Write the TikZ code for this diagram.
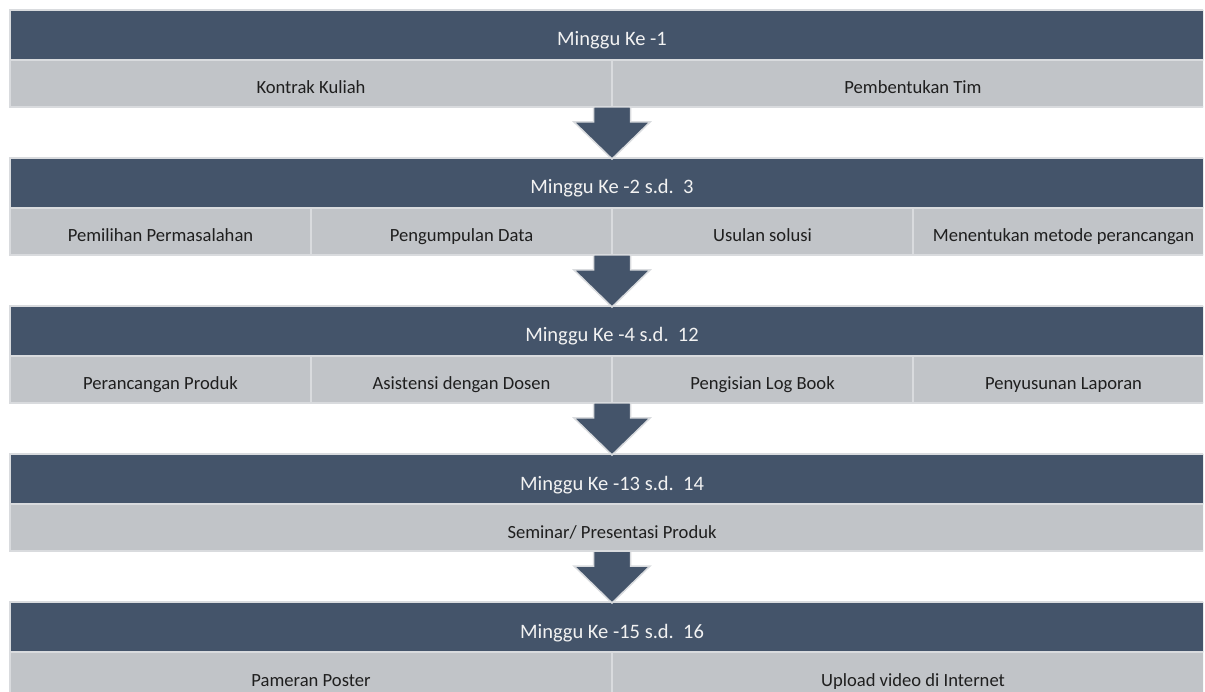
\documentclass[tikz,border=0pt]{standalone}
\usepackage{fontspec}
\setmainfont{Carlito}
\usepackage{xcolor}
\definecolor{slate}{HTML}{44546A}
\definecolor{silver}{HTML}{C1C4C8}
\definecolor{rim}{HTML}{D9DBDE}
\usetikzlibrary{
		positioning
	}

\begin{document}
\begin{tikzpicture}[x=1pt, y=-1pt,
	head/.style={fill=slate, draw=rim, line width=2pt, outer sep=0pt, inner sep=0pt, minimum width=1204pt, text=white!95!black, text height=36pt, text depth=14pt, font=\fontsize{20.5}{24}\selectfont},
	cell/.style={fill=silver, draw=rim, line width=2pt, outer sep=0pt, inner sep=0pt, text=black!88, text height=34pt, text depth=13pt, font=\fontsize{18.6}{22}\selectfont},
	half/.style={cell, minimum width=602pt},
	quart/.style={cell, minimum width=301pt},
	full/.style={cell, minimum width=1204pt},
	arr/.style={fill=slate, draw=rim, line width=1.5pt, line join=miter}]
	\useasboundingbox (0,0) rectangle (1205,692);
	\clip (0,0) rectangle (1203,692);
	% minggu 1
	\node[head] (h1) at (612,35) {Minggu Ke -1};
	\node[half, below right=0pt of h1.south west] (k11) {Kontrak Kuliah};
	\node[half, right=0pt of k11] (k12) {Pembentukan Tim};
	% minggu 2-3
	\node[head] (h2) at (612,183) {Minggu Ke -2 s.d.\ \ 3};
	\node[quart, below right=0pt of h2.south west] (k21) {Pemilihan Permasalahan};
	\node[quart, right=0pt of k21] (k22) {Pengumpulan Data};
	\node[quart, right=0pt of k22] (k23) {Usulan solusi};
	\node[quart, right=0pt of k23] (k24) {Menentukan metode perancangan};
	% minggu 4-12
	\node[head] (h3) at (612,331) {Minggu Ke -4 s.d.\ \ 12};
	\node[quart, below right=0pt of h3.south west] (k31) {Perancangan Produk};
	\node[quart, right=0pt of k31] (k32) {Asistensi dengan Dosen};
	\node[quart, right=0pt of k32] (k33) {Pengisian Log Book};
	\node[quart, right=0pt of k33] (k34) {Penyusunan Laporan};
	% minggu 13-14
	\node[head] (h4) at (612,479) {Minggu Ke -13 s.d.\ \ 14};
	\node[full, below=0pt of h4] (k41) {Seminar/ Presentasi Produk};
	% minggu 15-16
	\node[head] (h5) at (612,627) {Minggu Ke -15 s.d.\ \ 16};
	\node[half, below right=0pt of h5.south west] (k51) {Pameran Poster};
	\node[half, right=0pt of k51] (k52) {Upload video di Internet};
	% panah antar minggu
	\draw[arr] (k11.south east) ++(-18.5,0) -- ++(37,0) -- ++(0,15) -- ++(19.5,0) -- ++(-38,37) -- ++(-38,-37) -- ++(19.5,0) -- cycle;
	\draw[arr] (k22.south east) ++(-18.5,0) -- ++(37,0) -- ++(0,15) -- ++(19.5,0) -- ++(-38,37) -- ++(-38,-37) -- ++(19.5,0) -- cycle;
	\draw[arr] (k32.south east) ++(-18.5,0) -- ++(37,0) -- ++(0,15) -- ++(19.5,0) -- ++(-38,37) -- ++(-38,-37) -- ++(19.5,0) -- cycle;
	\draw[arr] (k41.south) ++(-18.5,0) -- ++(37,0) -- ++(0,15) -- ++(19.5,0) -- ++(-38,37) -- ++(-38,-37) -- ++(19.5,0) -- cycle;
\end{tikzpicture}
\end{document}
